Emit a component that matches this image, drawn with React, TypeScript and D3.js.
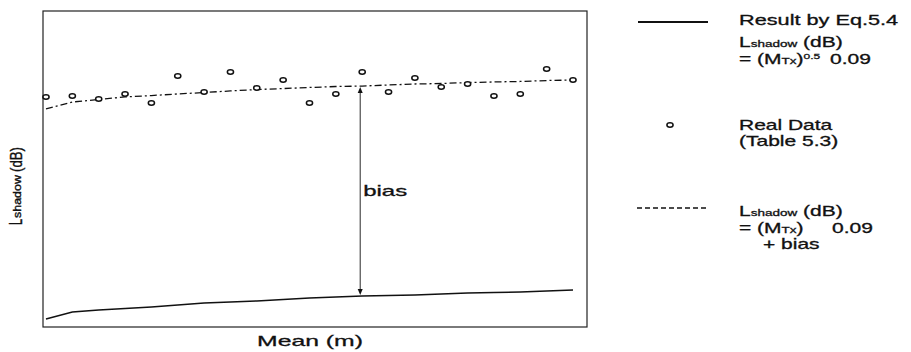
import React from "react";
import * as d3 from "d3";

// x index of each measurement (Mean, m — no tick values shown)
const xIndex = d3.range(0, 21);
// Real Data (Table 5.3), Lshadow (dB)
const realData = [14.56, 14.62, 14.43, 14.75, 14.18, 15.89, 14.87, 16.14, 15.13, 15.63, 14.18,
  14.75, 16.14, 14.87, 15.76, 15.19, 15.38, 14.62, 14.75, 16.33, 15.63];
// Result by Eq.5.4
const eqResult = [0.51, 0.95, 1.08, 1.17, 1.27, 1.39, 1.52, 1.58, 1.65, 1.74, 1.84,
  1.9, 1.96, 1.99, 2.03, 2.09, 2.15, 2.18, 2.22, 2.28, 2.34];
// Eq.5.4 + bias
const eqBias = [13.8, 14.24, 14.4, 14.56, 14.65, 14.75, 14.84, 14.94, 15.03, 15.09, 15.16,
  15.22, 15.25, 15.32, 15.38, 15.41, 15.47, 15.51, 15.54, 15.6, 15.63];
const biasIndex = 12;

const FONT = "'Liberation Sans', Arial, Helvetica, sans-serif";
const SX = 1.6;
const INK = "#111";

function T({ x, y, size = 14, sx = SX, anchor = "start", children }: any) {
  return (
    <text
      transform={`translate(${x},${y}) scale(${sx},1)`}
      fontSize={size}
      fontFamily={FONT}
      fill={INK}
      stroke={INK}
      strokeWidth={0.3}
      textAnchor={anchor}
    >
      {children}
    </text>
  );
}

function R({ x, y, size, sx, sy, children }: any) {
  return (
    <text
      transform={`translate(${x},${y}) rotate(-90) scale(${sx},${sy})`}
      fontSize={size}
      fontFamily={FONT}
      fill={INK}
      stroke={INK}
      strokeWidth={0.25}
    >
      {children}
    </text>
  );
}

export default function App() {
  const W = 911, H = 352;
  const left = 43, top = 11, right = 587, bottom = 327;
  const x = d3.scaleLinear().domain([0, 20]).range([46, 573]);
  const y = d3.scaleLinear().domain([0, 20]).range([bottom, bottom - 316]);

  const line = d3.line<number>().x((_, i) => x(xIndex[i])).y((d) => y(d));

  const ax = x(biasIndex) - 2;
  const aTop = y(eqBias[biasIndex]) + 1;
  const aBot = y(eqResult[biasIndex]) - 1;

  return (
    <svg width={W} height={H} style={{ position: "absolute", left: 0, top: 0, background: "#fff" }}>
      <rect x={0} y={0} width={W} height={H} fill="#fff" />
      <rect x={left} y={top} width={right - left} height={bottom - top} fill="none" stroke="#222" strokeWidth={1.2} />

      <path d={line(eqResult) || ""} fill="none" stroke={INK} strokeWidth={1.5} />
      <path d={line(eqBias) || ""} fill="none" stroke={INK} strokeWidth={1.3} strokeDasharray="7,3,2,3" />

      {realData.map((d, i) => (
        <ellipse key={i} cx={x(xIndex[i])} cy={y(d)} rx={3.1} ry={2.2} fill="#fff" stroke={INK} strokeWidth={1.5} />
      ))}

      {/* bias arrow */}
      <line x1={ax} x2={ax} y1={aTop + 4} y2={aBot - 4} stroke={INK} strokeWidth={0.9} />
      <path d={`M${ax},${aTop} L${ax - 2.5},${aTop + 6} L${ax + 2.5},${aTop + 6} Z`} fill={INK} />
      <path d={`M${ax},${aBot} L${ax - 2.5},${aBot - 6} L${ax + 2.5},${aBot - 6} Z`} fill={INK} />
      <T x={ax + 3} y={196} size={15}>bias</T>

      {/* axis titles */}
      <T x={310} y={346} size={15} sx={1.65} anchor="middle">Mean (m)</T>
      <R x={22} y={225} size={11} sx={1} sy={1.6}>L</R>
      <R x={21} y={218} size={7} sx={1.78} sy={1.5}>shadow</R>
      <R x={22} y={172} size={11} sx={1.2} sy={1.5}>(dB)</R>

      {/* legend */}
      <line x1={638} x2={708} y1={22} y2={22} stroke={INK} strokeWidth={2} />
      <T x={739} y={25} size={14} sx={1.55}>Result by Eq.5.4</T>
      <T x={739} y={47} size={14} sx={1.5}>
        L<tspan fontSize={9}>shadow</tspan> (dB)
      </T>
      <T x={739} y={64} size={14} sx={1.5}>
        = (M<tspan fontSize={9}>Tx</tspan>)<tspan fontSize={8} dy={-5}>0.5</tspan>
      </T>
      <T x={830} y={64} size={14} sx={1.5}>0.09</T>

      <ellipse cx={670} cy={125} rx={3.1} ry={2.2} fill="#fff" stroke={INK} strokeWidth={1.5} />
      <T x={739} y={130} size={14} sx={1.5}>Real Data</T>
      <T x={739} y={146} size={14} sx={1.5}>(Table 5.3)</T>

      <line x1={637} x2={708} y1={208} y2={208} stroke={INK} strokeWidth={1.5} strokeDasharray="5,3" />
      <T x={739} y={216} size={14} sx={1.5}>
        L<tspan fontSize={9}>shadow</tspan> (dB)
      </T>
      <T x={739} y={233} size={14} sx={1.5}>
        = (M<tspan fontSize={9}>Tx</tspan>)
      </T>
      <T x={832} y={233} size={14} sx={1.5}>0.09</T>
      <T x={763} y={249} size={14} sx={1.5}>+ bias</T>
    </svg>
  );
}
